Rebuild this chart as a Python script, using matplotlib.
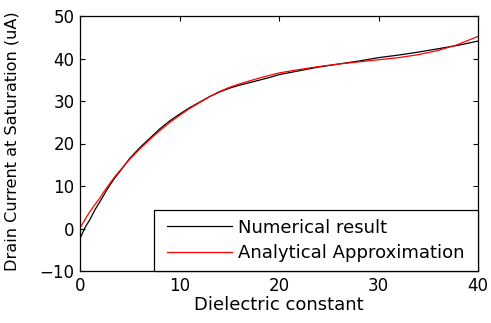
import matplotlib
matplotlib.use("Agg")
import matplotlib.pyplot as plt
from matplotlib.legend_handler import HandlerLine2D

# Data
x_num = [0, 0.5, 1, 1.5, 2, 2.5, 3, 3.5, 4, 5, 6, 7, 8, 9, 10, 11, 12, 13, 14, 15, 16, 17, 18, 19, 20,
         22, 24, 26, 28, 30, 32, 34, 36, 38, 40]
y_num = [-2.4, 0.2, 2.1, 4.4, 6.3, 8.3, 10.2, 11.9, 13.4, 16.5, 19.0, 21.2, 23.4, 25.3, 26.9, 28.4,
         29.7, 31.0, 32.1, 33.0, 33.7, 34.3, 34.9, 35.5, 36.2,
         37.1, 38.0, 38.7, 39.4, 40.2, 40.8, 41.5, 42.3, 43.1, 44.1]

x_ana = [0, 0.5, 1, 1.5, 2, 2.5, 3, 3.5, 4, 5, 6, 7, 8, 9, 10, 11, 12, 13, 14, 15, 16, 17, 18, 19, 20,
         22, 24, 26, 28, 30, 32, 34, 36, 38, 40]
y_ana = [0.1, 2.1, 4.0, 5.6, 7.2, 9.0, 10.6, 12.2, 13.6, 16.3, 18.7, 20.9, 23.0, 24.9, 26.6, 28.2,
         29.6, 31.0, 32.2, 33.2, 34.0, 34.7, 35.4, 36.0, 36.6,
         37.4, 38.1, 38.7, 39.2, 39.7, 40.2, 40.9, 41.9, 43.3, 45.2]

labels = ["Numerical result", "Analytical Approximation"]
xlabel = "Dielectric constant"
ylabel = "Drain Current at Saturation (uA)"
xticks = [0, 10, 20, 30, 40]
yticks = [-10, 0, 10, 20, 30, 40, 50]

plt.rcParams['font.family'] = ['DejaVu Sans']

fig = plt.figure(figsize=(4.91, 3.23), dpi=100)
ax = fig.add_axes([80/491, 1 - 271/323, (478-80)/491, (271-16)/323])

l1, = ax.plot(x_num, y_num, color='black', lw=0.9, label=labels[0])
l2, = ax.plot(x_ana, y_ana, color='#ff0000', lw=0.9, label=labels[1])

ax.set_xlim(0, 40)
ax.set_ylim(-10, 50)
ax.set_xticks(xticks)
ax.set_yticks(yticks)
ax.tick_params(direction='in', top=True, right=True, length=3.5, width=0.8,
               labelsize=12, pad=4)
for s in ax.spines.values():
    s.set_linewidth(0.9)

ax.set_xlabel(xlabel, fontsize=13, labelpad=1)
ax.set_ylabel(ylabel, fontsize=11.6)
ax.yaxis.set_label_coords(-0.153, 0.51)

hmap = {l1: HandlerLine2D(xpad=0.22), l2: HandlerLine2D(xpad=0.22)}
leg = ax.legend(handler_map=hmap, loc='lower left',
                bbox_to_anchor=((154-80)/398, 0, (478-154)/398, 0.3), mode='expand',
                borderaxespad=0, fontsize=13, fancybox=False, framealpha=1,
                edgecolor='black', handlelength=3.83, handletextpad=0.3,
                labelspacing=0.4, borderpad=0.5)
leg.get_frame().set_linewidth(0.9)

fig.savefig("out.png", dpi=100)
